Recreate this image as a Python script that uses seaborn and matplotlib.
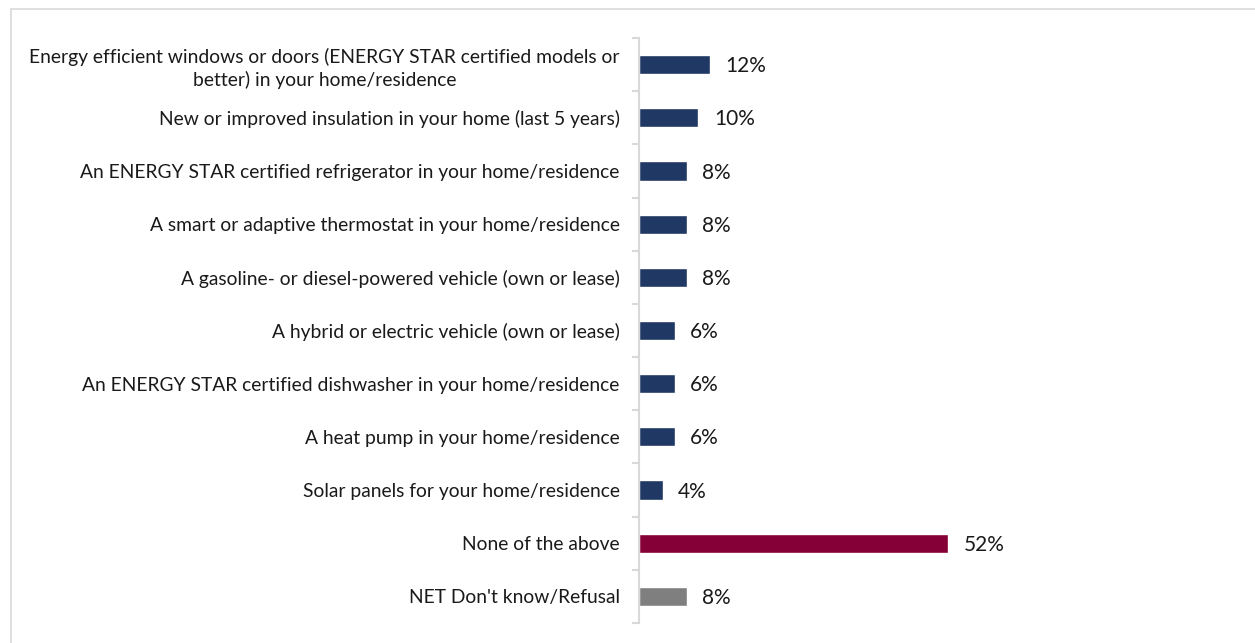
import pandas as pd
import matplotlib.pyplot as plt
import seaborn as sns
from matplotlib.lines import Line2D

# survey answers, top to bottom
items = [
    "Energy efficient windows or doors (ENERGY STAR certified models or\nbetter) in your home/residence",
    "New or improved insulation in your home (last 5 years)",
    "An ENERGY STAR certified refrigerator in your home/residence",
    "A smart or adaptive thermostat in your home/residence",
    "A gasoline- or diesel-powered vehicle (own or lease)",
    "A hybrid or electric vehicle (own or lease)",
    "An ENERGY STAR certified dishwasher in your home/residence",
    "A heat pump in your home/residence",
    "Solar panels for your home/residence",
    "None of the above",
    "NET Don't know/Refusal",
]
pct = [12, 10, 8, 8, 8, 6, 6, 6, 4, 52, 8]
bar_colors = ["#203864"] * 9 + ["#860038", "#7f7f7f"]

df = pd.DataFrame({"item": items, "pct": pct})

sns.set_style("white")
plt.rcParams["font.family"] = ["Lato", "DejaVu Sans"]

fig = plt.figure(figsize=(12.55, 6.43), dpi=100)
ax = fig.add_axes([639 / 1255, 1 - 623 / 643, 600 / 1255, 585 / 643])

sns.barplot(data=df, x="pct", y="item", hue="item", palette=bar_colors,
            saturation=1, width=0.36, legend=False, ax=ax, orient="h")

for i, v in enumerate(pct):
    ax.text(v + 2.6, i + 0.03, f"{v}%", va="center", ha="left", fontsize=15, color="#1a1a1a")

ax.set_xlim(0, 101)
ax.set_ylim(len(items) - 0.5, -0.5)
ax.set_xlabel("")
ax.set_ylabel("")
ax.set_xticks([])

ax.set_yticks(range(len(items)))
ax.set_yticklabels(items, fontsize=13.9, color="#1a1a1a", ha="right")
ax.tick_params(axis="y", which="major", left=True, length=0, pad=14)
ax.set_yticks([i - 0.5 for i in range(len(items) + 1)], minor=True)
ax.tick_params(axis="y", which="minor", left=True, length=5, width=1.5, color="#d9d9d9")
for lbl in ax.get_yticklabels():
    lbl.set_multialignment("center")
    lbl.set_linespacing(1.3)

for side in ["top", "right", "bottom"]:
    ax.spines[side].set_visible(False)
ax.spines["left"].set_color("#d9d9d9")
ax.spines["left"].set_linewidth(1.5)

# chart frame (only top and left edges show in the picture)
fig.add_artist(Line2D([11 / 1255, 1], [1 - 9 / 643, 1 - 9 / 643], color="#d9d9d9", lw=1.2))
fig.add_artist(Line2D([11 / 1255, 11 / 1255], [0, 1 - 9 / 643], color="#d9d9d9", lw=1.2))

plt.savefig("out.png", dpi=100)
